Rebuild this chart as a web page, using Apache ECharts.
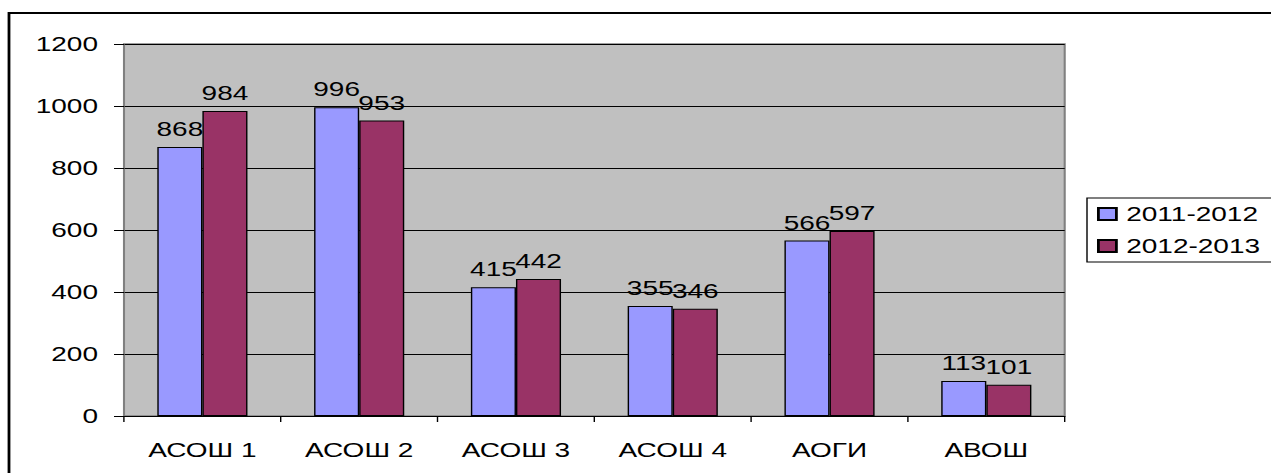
<!DOCTYPE html>
<html><head><meta charset="utf-8">
<script src="https://cdn.jsdelivr.net/npm/echarts@6/dist/echarts.min.js"></script>
<style>
html,body{margin:0;padding:0;background:#fff;overflow:hidden;width:1271px;height:473px}
#c{width:907.857px;height:473px;transform:scaleX(1.4);transform-origin:0 0}
</style>
</head><body><div id="c"></div>
<script>
const categories = ['АСОШ 1','АСОШ 2','АСОШ 3','АСОШ 4','АОГИ','АВОШ'];
const seriesNames = ['2011-2012','2012-2013'];
const values2011 = [868,996,415,355,566,113];
const values2012 = [984,953,442,346,597,101];
const yTicks = [0,200,400,600,800,1000,1200];

const S = 1.4; // horizontal stretch of the reference's text
const font = 'Liberation Sans, Arial, sans-serif';
const chart = echarts.init(document.getElementById('c'), null, {renderer:'svg'});
const mk = (name, data, color) => ({
  name, type:'bar', data, barGap:'0%', barCategoryGap:'42.5%',
  itemStyle:{color, borderColor:'#000', borderWidth:1},
  label:{show:true, position:'top', distance:8, color:'#000', fontSize:20, fontFamily:font},
  emphasis:{disabled:true}
});
chart.setOption({
  animation:false,
  backgroundColor:'#fff',
  graphic:[{type:'rect', shape:{x:9/S, y:13, width:2000, height:1000}, style:{fill:'none', stroke:'#000', lineWidth:2}}],
  grid:{left:124/S, right:206.5/S, top:44, bottom:57, show:true, backgroundColor:'#c0c0c0', borderColor:'#808080', borderWidth:1.5},
  legend:{orient:'vertical', left:1087/S, top:198, padding:[6,30,6,10/S], itemGap:12,
    borderColor:'#000', borderWidth:1, itemWidth:18/S, itemHeight:12, icon:'rect',
    textStyle:{fontSize:20, lineHeight:20, fontFamily:font, color:'#000', padding:[0,0,0,2]}, data:seriesNames},
  xAxis:{type:'category', data:categories,
    axisLine:{lineStyle:{color:'#000', width:1}},
    axisTick:{show:true, length:6, lineStyle:{color:'#000'}},
    axisLabel:{color:'#000', fontSize:20, fontFamily:font, margin:24}},
  yAxis:{type:'value', min:yTicks[0], max:yTicks[yTicks.length-1], interval:200,
    axisLine:{show:true, lineStyle:{color:'#808080'}},
    axisTick:{show:true, length:10/S, lineStyle:{color:'#000'}},
    splitLine:{lineStyle:{color:'#000', width:1}},
    axisLabel:{color:'#000', fontSize:20, fontFamily:font, margin:26/S, formatter:v => String(v)}},
  series:[mk(seriesNames[0], values2011, '#9999ff'), mk(seriesNames[1], values2012, '#993366')]
});
</script></body></html>
